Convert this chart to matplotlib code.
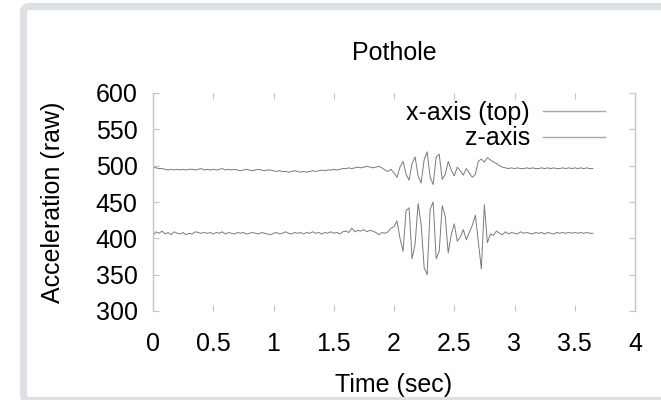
import numpy as np
import matplotlib
matplotlib.use("Agg")
import matplotlib.pyplot as plt
from matplotlib.patches import FancyBboxPatch
from matplotlib.transforms import IdentityTransform

# ======================================
# Pothole - accelerometer trace (raw)
# ======================================

# sample period of the logger (sec)
dt = 0.025

# x-axis (top trace)
x_top = [
    498, 497, 496, 496, 495, 494, 495, 494, 495, 494,
    495, 494, 495, 495, 494, 495, 496, 494, 495, 494,
    495, 494, 495, 496, 494, 495, 494, 495, 494, 493,
    494, 495, 494, 493, 494, 495, 494, 493, 494, 494,
    493, 492, 493, 492, 492, 491, 492, 493, 492, 491,
    492, 491, 492, 493, 492, 493, 494, 493, 494, 494,
    495, 494, 495, 496, 496, 497, 496, 497, 498, 497,
    498, 499, 498, 497, 498, 499, 497, 494, 492, 495,
    490, 484, 498, 506, 488, 480, 503, 512, 486, 476,
    508, 519, 484, 474, 512, 516, 481, 488, 506, 494,
    486, 498, 493, 487, 496, 490, 484, 488, 506, 509,
    505, 511, 508, 505, 503, 500, 498, 497, 496, 497,
    496, 497, 496, 496, 497, 496, 497, 496, 496, 497,
    496, 497, 496, 497, 496, 496, 497, 496, 497, 496,
    497, 496, 497, 496, 497, 496, 496,
]

# z-axis
z_axis = [
    404, 409, 407, 410, 406, 408, 405, 409, 407, 406,
    408, 405, 407, 406, 409, 408, 407, 408, 407, 408,
    406, 408, 407, 409, 406, 408, 407, 406, 408, 407,
    408, 406, 407, 408, 407, 406, 408, 407, 406, 405,
    407, 408, 406, 407, 409, 407, 406, 408, 407, 408,
    406, 408, 407, 409, 407, 408, 406, 408, 407, 409,
    407, 408, 406, 409, 410, 408, 414, 409, 411, 410,
    412, 409, 411, 410, 408, 405, 408, 407, 409, 414,
    416, 424, 400, 382, 438, 442, 372, 392, 448, 420,
    360, 350, 440, 450, 372, 382, 445, 430, 380, 405,
    420, 396, 402, 412, 398, 408, 418, 432, 395, 358,
    446, 394, 406, 404, 410, 407, 405, 409, 406, 408,
    407, 406, 409, 407, 408, 407, 406, 408, 407, 408,
    406, 408, 407, 406, 408, 407, 408, 407, 408, 407,
    408, 407, 408, 407, 408, 407, 407,
]

x_ticks = [0, 0.5, 1, 1.5, 2, 2.5, 3, 3.5, 4]
x_tick_labels = ['0', '0.5', '1', '1.5', '2', '2.5', '3', '3.5', '4']
y_ticks = [300, 350, 400, 450, 500, 550, 600]

temps = np.arange(len(x_top)) * dt

plt.rcParams['font.family'] = ['Liberation Sans', 'DejaVu Sans']
plt.rcParams['font.size'] = 18

fig = plt.figure(figsize=(6.61, 4.0), dpi=100)
ax = fig.add_axes([153 / 661, 1 - 311 / 400, (635 - 153) / 661, (311 - 93) / 400])

# light grey frame round the picture
cadre = FancyBboxPatch((23.5, -0.5), 660, 394, boxstyle="round,pad=0,rounding_size=6",
                       transform=IdentityTransform(), facecolor='none',
                       edgecolor='#dde1e5', linewidth=5.2)
fig.patches.append(cadre)

ax.plot(temps, x_top, color='#7a7a7a', linewidth=0.7, label='x-axis (top)')
ax.plot(temps, z_axis, color='#7a7a7a', linewidth=0.7, label='z-axis')

ax.set_xlim(0, 4)
ax.set_ylim(300, 600)
ax.set_xticks(x_ticks)
ax.set_xticklabels(x_tick_labels)
ax.set_yticks(y_ticks)

for cote in ['top', 'bottom']:
    ax.spines[cote].set_visible(False)
for cote in ['left', 'right']:
    ax.spines[cote].set_color('#c4c4c4')
    ax.spines[cote].set_linewidth(1.0)

ax.tick_params(axis='both', direction='in', length=4, width=0.8, color='#c4c4c4',
               top=True, right=True)
ax.tick_params(axis='x', pad=15)
ax.tick_params(axis='y', pad=11)

# titre et libelles des axes
ax.set_title("Pothole", fontsize=18, y=(311 - 53) / 218, va='center', pad=0)

ax.set_xlabel("Time (sec)")
ax.xaxis.set_label_coords(0.5, (311 - 385) / 218)
ax.xaxis.label.set_verticalalignment('center')
ax.set_ylabel("Acceleration (raw)")
ax.yaxis.set_label_coords((53 - 153) / 482, 0.5)
ax.yaxis.label.set_verticalalignment('center')

leg = ax.legend(loc='upper right', bbox_to_anchor=(605 / 661, 1 - 101 / 400),
                bbox_transform=fig.transFigure, frameon=False, markerfirst=False,
                borderpad=0, borderaxespad=0, handlelength=2.5, handletextpad=0.5,
                labelspacing=0.05)
for ligne in leg.get_lines():
    ligne.set_color('#a8a8a8')
    ligne.set_linewidth(1.0)

plt.savefig("out.png", dpi=100)
